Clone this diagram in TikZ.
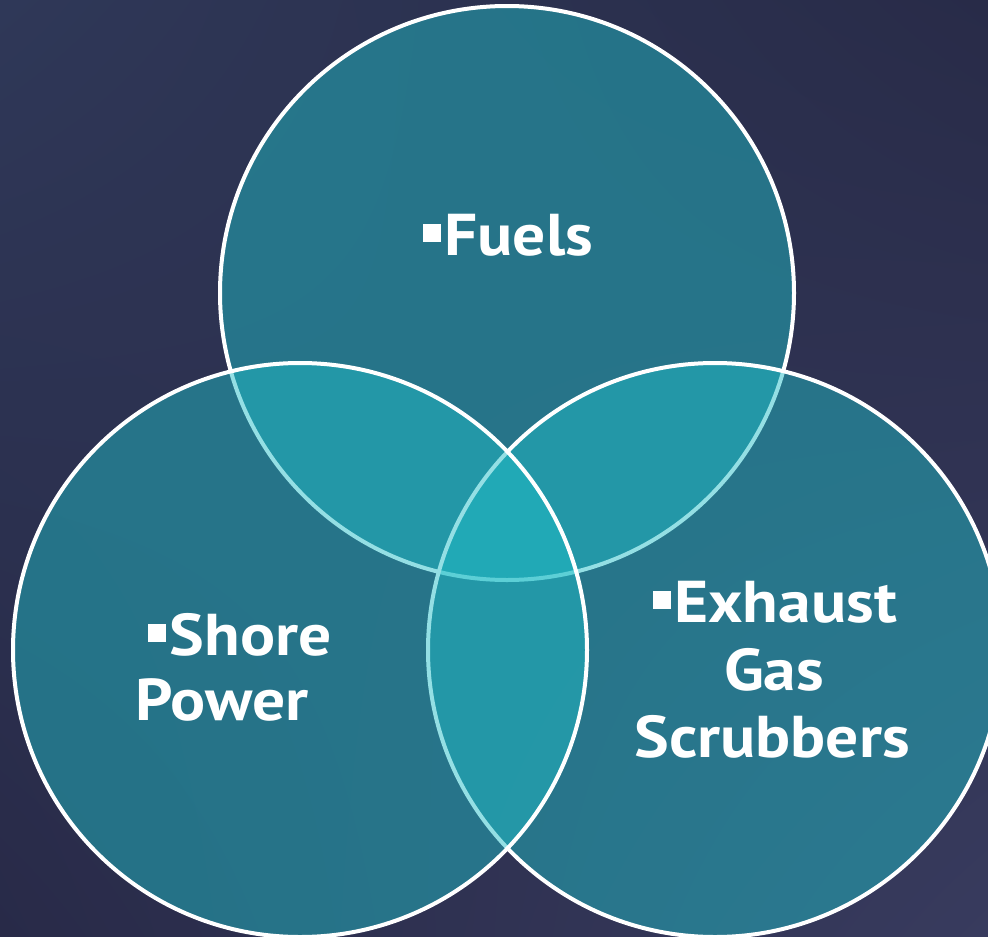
\documentclass[tikz,border=0pt]{standalone}
\usepackage{fontspec}
\setmainfont{PT Sans}[FakeStretch=1.11]
\usetikzlibrary{shadings}
\definecolor{bgA}{RGB}{47,56,88}
\definecolor{bgB}{RGB}{40,43,72}
\definecolor{bgC}{RGB}{40,42,72}
\definecolor{bgD}{RGB}{56,59,94}
\definecolor{tealF}{RGB}{32,190,200}
\newcommand\sqbul{\rule[0.22em]{0.3em}{0.3em}\hspace{0.06em}}
\tikzset{
  venn/.style={circle, minimum size=574pt, inner sep=0pt, fill=tealF, fill opacity=0.48, draw=white, line width=4pt},
  lbl/.style={text=white, font=\bfseries\fontsize{59}{66}\selectfont, inner sep=0pt, anchor=base}
}
\begin{document}
\begin{tikzpicture}[x=1pt,y=-1pt]
\clip (0,0) rectangle (988,937);
\shade[upper left=bgA, upper right=bgB, lower left=bgC, lower right=bgD] (0,0) rectangle (988,937);
\node[venn] (ctop) at (507,293) {};
\node[venn] (cright) at (715,650) {};
\node[venn] (cleft) at (300,650) {};
\node[lbl] (fuels) at (508,255) {\sqbul Fuels};
\node[lbl] (shore) at (240,655) {\sqbul Shore};
\node[lbl] (power) at (222,720) {Power};
\node[lbl] (exhaust) at (775,622) {\sqbul Exhaust};
\node[lbl] (gas) at (774,690) {Gas};
\node[lbl] (scrub) at (772,757) {Scrubbers};
\end{tikzpicture}
\end{document}
